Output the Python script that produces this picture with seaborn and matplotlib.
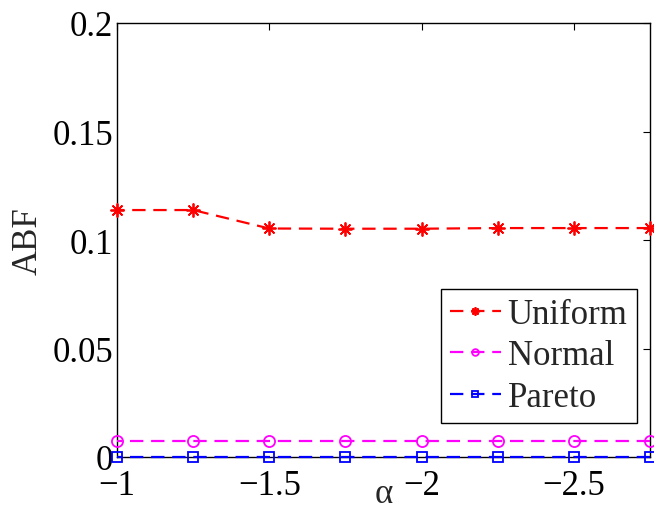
import matplotlib
matplotlib.use("Agg")
import matplotlib.pyplot as plt
import seaborn as sns
import pandas as pd

alpha = [-1.0, -1.25, -1.5, -1.75, -2.0, -2.25, -2.5, -2.75]
uniform = [0.1138, 0.1138, 0.1053, 0.1052, 0.1052, 0.1055, 0.1055, 0.1055]
normal = [0.0074, 0.0074, 0.0074, 0.0074, 0.0074, 0.0074, 0.0074, 0.0074]
pareto = [0.0, 0.0, 0.0, 0.0, 0.0, 0.0, 0.0, 0.0]
series_names = ["Uniform", "Normal", "Pareto"]
xticks = [-1, -1.5, -2, -2.5]
yticks = [0, 0.05, 0.1, 0.15, 0.2]

sns.set_style("white")
plt.rcParams['font.family'] = ['Liberation Serif', 'DejaVu Serif']

fig = plt.figure(figsize=(6.54, 5.10), dpi=100)
ax = fig.add_axes([117/654, 52/510, 533/654, 434/510])

styles = {
    "Uniform": dict(color=(1, 0, 0), marker=(8, 2, 0), mfc=(1, 0, 0), ms=10),
    "Normal": dict(color=(1, 0, 1), marker="o", mfc="none", ms=8),
    "Pareto": dict(color=(0, 0, 1), marker="s", mfc="none", ms=7),
}
for name, vals in zip(series_names, [uniform, normal, pareto]):
    df = pd.DataFrame({"alpha": alpha, "ABF": vals})
    st = styles[name]
    sns.lineplot(data=df, x="alpha", y="ABF", ax=ax, color=st["color"],
                 marker=st["marker"], markerfacecolor=st["mfc"],
                 markeredgecolor=st["color"], markersize=st["ms"], markeredgewidth=1.3,
                 linewidth=1.6, dashes=False, label=name, clip_on=False, zorder=3)
    ax.lines[-1].set_linestyle((0, (6, 3.5)))

ax.set_xlim(-1, -2.75)
ax.set_ylim(0, 0.2)
ax.set_xticks(xticks)
ax.set_xticklabels(["\u22121", "\u22121.5", "\u22122", "\u22122.5"])
ax.set_yticks(yticks)
ax.set_yticklabels(["0", "0.05", "0.1", "0.15", "0.2"])
ax.tick_params(direction="in", length=5, width=0.8, top=True, right=True,
               labelsize=25, colors="black", pad=9)
ax.tick_params(axis="y", pad=3)
for s in ax.spines.values():
    s.set_visible(True)
    s.set_color("black")
    s.set_linewidth(1.0)

ax.set_xlabel("\u03b1", fontsize=25)
ax.set_ylabel("ABF", fontsize=25)
ax.xaxis.set_label_coords(0.501, -0.083)
ax.xaxis.label.set_va("center")
ax.yaxis.set_label_coords(-0.167, 0.5)
ax.yaxis.label.set_va("center")

leg = ax.legend(loc="lower right", bbox_to_anchor=(0.975, 0.078), fontsize=25,
                frameon=True, fancybox=False, edgecolor="black", framealpha=1,
                handlelength=1.45, handletextpad=0.2, borderpad=0.27, labelspacing=0.24,
                borderaxespad=0, markerscale=0.6)
leg.get_frame().set_linewidth(1.0)

fig.savefig("out.png", dpi=100)
